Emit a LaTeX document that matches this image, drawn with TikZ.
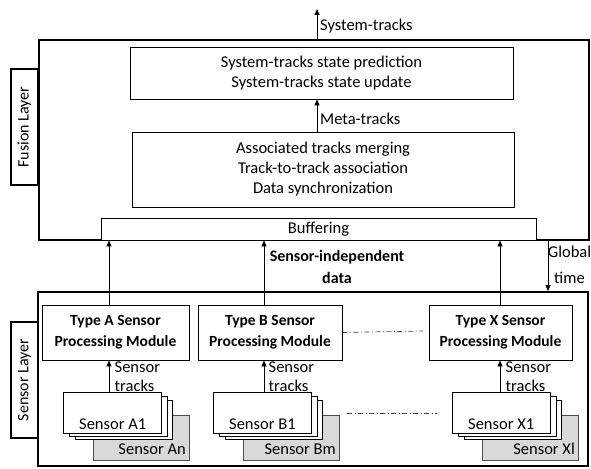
\documentclass[tikz,border=0pt]{standalone}
\usepackage{fontspec}
\setmainfont{Carlito}
\usetikzlibrary{arrows.meta}
\definecolor{gfill}{HTML}{D9D9D9}
\begin{document}
\begin{tikzpicture}[x=1pt,y=-1pt,
  every node/.style={font=\fontsize{16.5}{20}\selectfont, inner sep=0pt},
  blk/.style={draw, line width=0.9pt, align=center, fill=white},
  layerbox/.style={draw, line width=1.8pt},
  lbl/.style={draw, line width=2.8pt, rotate=90, minimum width=116pt, minimum height=27pt, fill=white, font=\fontsize{16}{18}\selectfont},
  modbox/.style={draw, line width=0.9pt, align=center, fill=white, font=\fontsize{15.5}{21}\selectfont\bfseries, minimum height=55pt},
  sbox/.style={draw, line width=0.9pt, fill=white},
  gbox/.style={draw=black!70, line width=0.8pt, fill=gfill},
  arr/.style={-{Triangle[length=6pt,width=5pt]}, line width=0.8pt},
  dd/.style={black!75, line width=0.7pt, dash pattern=on 5pt off 2.5pt on 1pt off 2.5pt},
  txt/.style={align=left, font=\fontsize{16.5}{19}\selectfont}
]
\useasboundingbox (0,0) rectangle (591,468);
\fill[white] (0,0) rectangle (591,468);

% ---------- Fusion layer ----------
\node[layerbox, minimum width=550pt, minimum height=200pt] (fusion) at (313.75,140) {};
\node[lbl] (fusionlbl) at (24.5,127) {Fusion Layer};
\node[blk, minimum width=383pt, minimum height=52pt] (sys) at (321.5,73)
  {System-tracks state prediction\\System-tracks state update};
\node[blk, minimum width=382pt, minimum height=75pt] (assoc) at (323,169.5)
  {Associated tracks merging\\Track-to-track association\\Data synchronization};
\node[blk, minimum width=435pt, minimum height=22pt] (buf) at (318.5,229) {Buffering};

\coordinate (ox) at (317,0);
\coordinate (out) at (317,9);
\draw[arr] (fusion.north -| ox) -- (out);
\node[anchor=west] (outlbl) at (320,26) {System-tracks};
\draw[arr] (assoc.north -| ox) -- (sys.south -| ox);
\node[anchor=west] (metalbl) at (320,119) {Meta-tracks};

% ---------- Sensor layer ----------
\node[layerbox, minimum width=550pt, minimum height=174pt] (sensor) at (313,379) {};
\node[lbl] (sensorlbl) at (24.5,380) {Sensor Layer};

\node[modbox, minimum width=147pt] (typeA) at (115.5,332.5) {Type A Sensor\\Processing Module};
\node[modbox, minimum width=144pt] (typeB) at (270,332.5) {Type B Sensor\\Processing Module};
\node[modbox, minimum width=143pt] (typeX) at (500.5,332.5) {Type X Sensor\\Processing Module};

\node[align=center, font=\fontsize{16}{22}\selectfont\bfseries] (sid) at (337,267) {Sensor-independent\\data};

\coordinate (gx) at (548,0);
\draw[arr] (fusion.south -| gx) -- (sensor.north -| gx);
\node[align=center, font=\fontsize{16.5}{26}\selectfont] (gt) at (569.5,265) {Global\\time};

% sensor stacks
\foreach \s/\dx/\one/\many in {A/0/A1/An, B/150/B1/Bm, X/389/X1/Xl}{
  \begin{scope}[xshift=\dx pt]
    \node[gbox, minimum width=96pt, minimum height=45pt] (g\s) at (141,437.5) {};
    \node[anchor=east] (gl\s) at (186,449) {Sensor \many};
    \node[sbox, minimum width=97pt, minimum height=39pt] (b3\s) at (123.5,419.5) {};
    \node[sbox, minimum width=98pt, minimum height=40pt] (b2\s) at (118,416) {};
    \node[sbox, minimum width=98pt, minimum height=41pt] (front\s) at (112,412.5) {};
    \node[anchor=west] (fl\s) at (79,424.5) {Sensor \one};
  \end{scope}
}

\coordinate (pA) at (109,0);
\coordinate (pB) at (264,0);
\coordinate (pX) at (500,0);
\foreach \s in {A,B,X}{
  \draw[arr] (front\s.north -| p\s) -- (type\s.south -| p\s);
  \draw[arr] (type\s.north -| p\s) -- (buf.south -| p\s);
}
\node[txt, anchor=west] (stA) at (114.5,376.5) {Sensor\\tracks};
\node[txt, anchor=west] (stB) at (268.5,376.5) {Sensor\\tracks};
\node[txt, anchor=west] (stX) at (505.5,376.5) {Sensor\\tracks};

% dash-dot continuation lines
\coordinate (d1) at (423,331);
\draw[dd] (typeB.east) -- (d1);
\coordinate (d2a) at (347,413);
\coordinate (d2b) at (437,413);
\draw[dd] (d2a) -- (d2b);
\end{tikzpicture}
\end{document}
